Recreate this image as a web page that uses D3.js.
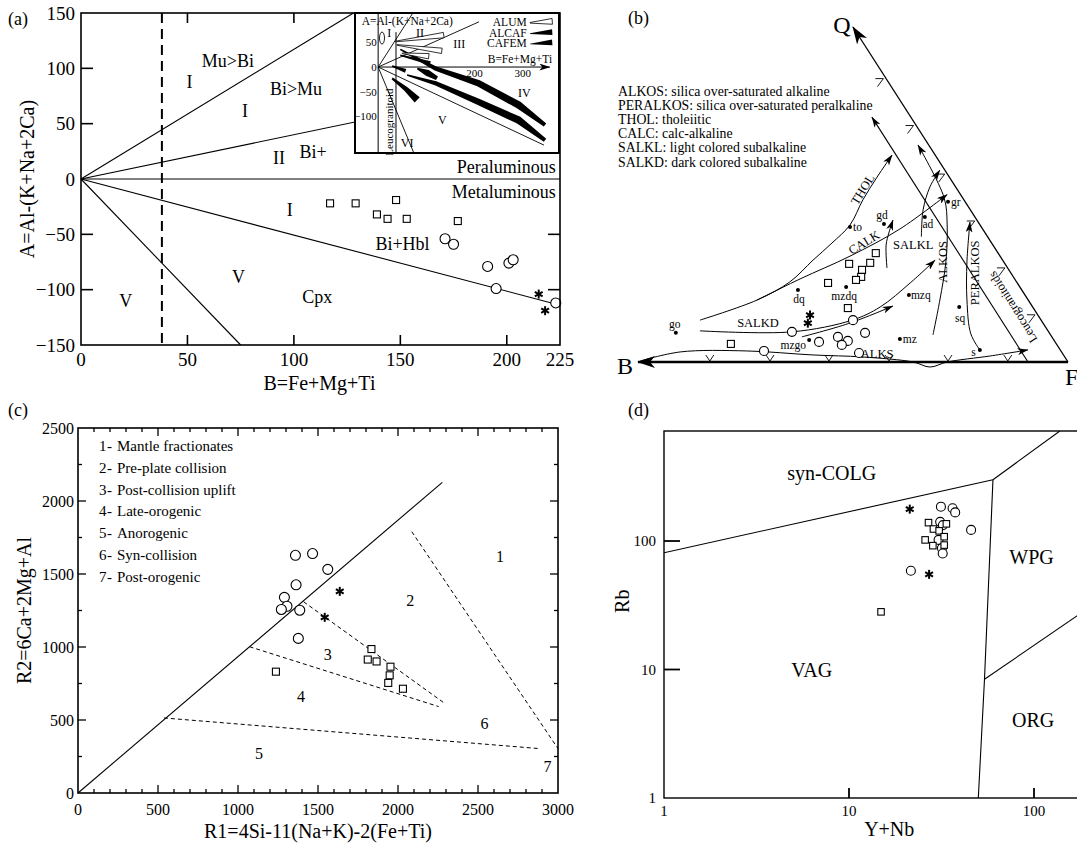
<!DOCTYPE html>
<html>
<head>
<meta charset="utf-8">
<script src="https://cdn.jsdelivr.net/npm/d3@7"></script>
<style>
body { margin: 0; background: #fff; }
text { font-family: "Liberation Serif", "DejaVu Serif", serif; fill: #000; }
</style>
</head>
<body>
<svg id="fig" width="1077" height="852"></svg>
<script>
// ---- (a) A-B diagram ----
var aSquares = [[117,-22],[129,-22],[139,-32],[144,-36],[148,-19],[153,-36],[177,-38]];
var aCircles = [[171,-54],[175,-59],[191,-79],[201,-76],[203,-73],[195,-99],[223,-112]];
var aStars = [[215,-104],[218,-119]];
var aBounds = [[[0,0],[128,150]], [[0,0],[225,90]], [[0,0],[225,0]], [[0,0],[225,-114]], [[0,0],[75,-150]]];
var aDashB = 38;
var aXTicks = [0,50,100,150,200,225];
var aYTicks = [150,100,50,0,-50,-100,-150];
var aLabels = [["Mu>Bi",69,107],["I",51,88],["Bi>Mu",101,81],["I",77,61],["II",93,19],["Bi+",109,24],
               ["I",98,-28],["Bi+Hbl",151,-59],["V",74,-89],["Cpx",111,-107],["V",21,-110]];
// inset of (a)
var insLines = [[[0,0],[72,110]], [[0,0],[209,92]], [[0,0],[344,-159]], [[0,0],[74,-175]]];
var insLeuco = [[37,71],[37,-175]];
var insAlcaf = [[[46,36],[119,-3],[208,-33],[291,-77],[346,-118]],
                [[60,-16],[119,-33],[208,-71],[291,-108],[346,-149]],
                [[81,-3],[102,-12],[122,-23]],
                [[29,2],[57,-8]],
                [[46,24],[108,8]]];
var insCafem = [[[29,-23],[57,-44],[81,-67]]];
var insAlum = [[[36,52],[136,65]], [[39,45],[132,33]], [[50,28],[105,22]]];
var insLabels = [["I",23,69],["II",87,69],["III",168,47],["IV",303,-53],["V",133,-108],["VI",60,-155]];
var insLegend = ["ALUM","ALCAF","CAFEM"];
var insYTicks = [50,0,-50,-100];
var insXTicks = [200,300];

// ---- (b) Q-B-F diagram ----
var bSquares = [[55.3,32.5],[54.0,29.6],[52.1,27.5],[51.9,25.4],[50.7,24.5],[49.1,29.3],[44.2,23.6],[48.8,16.1],[21.6,5.4]];
var bCircles = [[35.8,9.0],[50.0,12.5],[52.8,8.7],[46.5,7.5],[48.8,6.3],[47.4,5.1],[42.1,6.0],[29.3,3.3],[51.4,2.7]];
var bStars = [[40.0,14.0],[39.5,11.6]];
var bRocks = [["go",8.8,8.7],["to",49.3,40.3],["gd",57.2,41.2],["ad",66.7,43.3],["gr",72.1,47.8],["dq",37.2,21.5],
              ["mzdq",48.4,22.4],["mzq",63.0,20.0],["sq",74.7,16.4],["mzgo",39.8,6.6],["mz",60.9,6.9],["s",79.5,3.6]];
var bThol = [[14.4,12.5],[27.7,18.5],[35.3,23.9],[40.7,30.4],[45.1,35.5],[49.3,40.9],[52.3,48.4],[55.6,55.2],[59.1,61.8]];
var bCalk = [[27.7,18.5],[37.7,24.8],[49.3,31.6],[60.9,39.7],[71.9,50.0]];
var bSalkd = [[14.4,9.3],[35.8,9.0],[49.8,12.5],[56.3,16.4],[63.3,23.6],[69.1,30.4]];
var bTrend2 = [[38.1,7.5],[49.0,11.5],[59.3,16.7]];
var bSalkl = [[57.9,28.1],[57.7,34.9],[58.4,38.8],[59.3,42.4]];
var bAdTrend = [[65.9,37.4],[66.3,45.4],[67.9,52.3],[70.2,57.3]];
var bAlkos = [[68.6,8.1],[70.2,18.5],[71.6,29.9],[71.9,40.9],[71.2,49.0],[65.1,64.8]];
var bPeralkos = [[79.5,3.6],[77.4,8.4],[76.5,18.5],[76.5,29.9],[77.2,41.8]];
var bAlks = [[0.5,0.3],[9.8,3.0],[25.3,3.3],[40.7,2.1],[52.3,1.5],[64.0,0],[67.9,-1.5],[71.9,0],[81.9,1.8],[90.7,3.6]];
var bLeuco = [[90.7,0],[54.4,73.1]];
var bCorners = {B:[0,0], F:[100,0], Q:[50,100]};
var bBaseTicks = [16.7,30.7,44.4,58.4,72.1,86.0];
var bSideTicks = [0.16,0.30,0.445,0.585,0.725,0.865];
var bTrendLabels = [["THOL",52.3,51.5],["CALK",52.6,35.6],["SALKL",64.0,34.9],["SALKD",27.9,11.6],
                    ["ALKOS",70.9,29.9],["PERALKOS",78.4,26.6],["Leucogranitoids",87.2,16.4],["ALKS",55.6,2.4]];
var bLegend = ["ALKOS: silica over-saturated alkaline","PERALKOS: silica over-saturated peralkaline","THOL: tholeiitic",
               "CALC: calc-alkaline","SALKL: light colored subalkaline","SALKD: dark colored subalkaline"];

// ---- (c) R1-R2 diagram ----
var cCircles = [[1359,1628],[1466,1640],[1561,1532],[1363,1426],[1290,1340],[1306,1279],[1271,1257],[1386,1252],[1377,1059]];
var cSquares = [[1834,986],[1811,914],[1866,901],[1953,865],[1948,806],[1939,754],[2031,714],[1237,831]];
var cStars = [[1636,1381],[1542,1203]];
var cSolid = [[0,0],[2277,2128]];
var cDashed = [[[2086,1790],[3000,304]], [[1072,1002],[2254,592]], [[1410,1310],[2293,613]], [[537,514],[2885,304]]];
var cZones = [["1",2637,1622],["2",2077,1318],["3",1561,946],["4",1393,664],["5",1132,270],["6",2541,477],["7",2935,180]];
var cLegend = ["Mantle fractionates","Pre-plate collision","Post-collision uplift","Late-orogenic","Anorogenic","Syn-collision","Post-orogenic"];
var cXTicks = [0,500,1000,1500,2000,2500,3000];
var cYTicks = [0,500,1000,1500,2000,2500];

// ---- (d) Rb vs Y+Nb ----
var dCircles = [[31.4,185],[36.3,180],[37.5,167],[45.7,122],[31.1,141],[32.2,133],[30.5,102],[31.8,88],[32.1,80],[21.6,58.7]];
var dSquares = [[26.9,139],[28.6,124],[33.6,136],[30.7,120],[32.7,108],[25.8,102],[28.4,92],[32.7,93],[14.9,28.1]];
var dStars = [[21.3,177],[27.1,55]];
var dBounds = [[[1,81],[60,300]], [[60,300],[138,718]], [[60,300],[54,8.4],[50,1]], [[54,8.4],[200,30.5]]];
var dZones = [["syn-COLG",8.06,340],["VAG",6.29,10],["WPG",97,74.7],["ORG",99,4.05]];
var dTicks = [1,10,100];

var svg = d3.select("#fig");
svg.append("rect").attr("width", 1077).attr("height", 852).attr("fill", "#fff");
var defs = svg.append("defs");
defs.append("marker").attr("id", "arr").attr("viewBox", "0 0 11 7").attr("refX", 10.5).attr("refY", 3.5)
  .attr("markerWidth", 11).attr("markerHeight", 7).attr("markerUnits", "userSpaceOnUse").attr("orient", "auto")
  .append("path").attr("d", "M0,0 L11,3.5 L0,7 L3,3.5 Z").attr("fill", "#000");
defs.append("marker").attr("id", "arrBig").attr("viewBox", "0 0 18 12").attr("refX", 17).attr("refY", 6)
  .attr("markerWidth", 18).attr("markerHeight", 12).attr("markerUnits", "userSpaceOnUse").attr("orient", "auto")
  .append("path").attr("d", "M0,0 L18,6 L0,12 L5,6 Z").attr("fill", "#000");

var minus = function(v) { return v < 0 ? "\u2212" + Math.abs(v) : String(v); };

// helpers for the marker styles
function squares(g, pts, sx, sy, s) {
  g.selectAll(null).data(pts).enter().append("rect")
    .attr("x", function(d) { return sx(d[0]) - s / 2; })
    .attr("y", function(d) { return sy(d[1]) - s / 2; })
    .attr("width", s).attr("height", s)
    .attr("fill", "#fff").attr("stroke", "#000").attr("stroke-width", 1.1);
}
function circles(g, pts, sx, sy, r) {
  g.selectAll(null).data(pts).enter().append("circle")
    .attr("cx", function(d) { return sx(d[0]); })
    .attr("cy", function(d) { return sy(d[1]); })
    .attr("r", r).attr("fill", "#fff").attr("stroke", "#000").attr("stroke-width", 1.1);
}
function stars(g, pts, sx, sy, r) {
  pts.forEach(function(d) {
    var x = sx(d[0]), y = sy(d[1]);
    [90, 30, 150].forEach(function(a) {
      var c = Math.cos(a * Math.PI / 180) * r, s = Math.sin(a * Math.PI / 180) * r;
      g.append("line").attr("x1", x - c).attr("y1", y - s).attr("x2", x + c).attr("y2", y + s)
        .attr("stroke", "#000").attr("stroke-width", 2);
    });
  });
}
function txt(g, s, x, y, size, anchor) {
  return g.append("text").attr("x", x).attr("y", y).attr("font-size", size)
    .attr("text-anchor", anchor || "middle").attr("dominant-baseline", "central").text(s);
}
// band polygon around a centre line, width in px given by profile function
function band(pts, sx, sy, prof) {
  var p = pts.map(function(d) { return [sx(d[0]), sy(d[1])]; });
  var n = p.length, L = [], R = [];
  p.forEach(function(q, i) {
    var a = p[Math.max(i - 1, 0)], b = p[Math.min(i + 1, n - 1)];
    var dx = b[0] - a[0], dy = b[1] - a[1], len = Math.hypot(dx, dy);
    var w = prof(i / (n - 1));
    L.push([q[0] - dy / len * w, q[1] + dx / len * w]);
    R.push([q[0] + dy / len * w, q[1] - dx / len * w]);
  });
  return d3.line()(L.concat(R.reverse())) + "Z";
}

// =================== (a) ===================
var ax = d3.scaleLinear().domain([0, 225]).range([81, 560]);
var ay = d3.scaleLinear().domain([-150, 150]).range([345, 13]);
var gA = svg.append("g");
var lineA = d3.line().x(function(d) { return ax(d[0]); }).y(function(d) { return ay(d[1]); });
aBounds.forEach(function(l) {
  gA.append("path").attr("d", lineA(l)).attr("fill", "none").attr("stroke", "#000").attr("stroke-width", 1.1);
});
gA.append("line").attr("x1", ax(aDashB)).attr("x2", ax(aDashB)).attr("y1", ay(150)).attr("y2", ay(-150))
  .attr("stroke", "#000").attr("stroke-width", 2).attr("stroke-dasharray", "10,6");
squares(gA, aSquares, ax, ay, 7);
circles(gA, aCircles, ax, ay, 5);
stars(gA, aStars, ax, ay, 4.5);
aLabels.forEach(function(l) { txt(gA, l[0], ax(l[1]), ay(l[2]), 18); });
txt(gA, "Peraluminous", ax(223), ay(11), 18, "end");
txt(gA, "Metaluminous", ax(223), ay(-12), 18, "end");

// inset
var ix = d3.scaleLinear().domain([-48, 375]).range([355, 559]);
var iy = d3.scaleLinear().domain([-175, 110]).range([153, 13]);
var gI = svg.append("g");
gI.append("rect").attr("x", ix(-48)).attr("y", iy(110)).attr("width", ix(375) - ix(-48)).attr("height", iy(-175) - iy(110))
  .attr("fill", "#fff").attr("stroke", "#000").attr("stroke-width", 2);
var lineI = d3.line().x(function(d) { return ix(d[0]); }).y(function(d) { return iy(d[1]); });
insLines.forEach(function(l) {
  gI.append("path").attr("d", lineI(l)).attr("fill", "none").attr("stroke", "#000").attr("stroke-width", 0.9);
});
gI.append("path").attr("d", lineI(insLeuco)).attr("stroke", "#000").attr("stroke-width", 1);
gI.append("line").attr("x1", ix(0)).attr("x2", ix(0)).attr("y1", iy(110)).attr("y2", iy(-175)).attr("stroke", "#000").attr("stroke-width", 1);
gI.append("line").attr("x1", ix(0)).attr("x2", ix(356)).attr("y1", iy(0)).attr("y2", iy(0))
  .attr("stroke", "#000").attr("stroke-width", 1).attr("marker-end", "url(#arr)");
var bulge = function(t) { return 0.8 + 3.0 * Math.sin(Math.min(t * 1.15, 1) * Math.PI * 0.5) * (t > 0.9 ? (1 - t) * 6 + 0.4 : 1); };
insAlcaf.forEach(function(p) { gI.append("path").attr("d", band(p, ix, iy, bulge)).attr("fill", "#000"); });
insCafem.forEach(function(p) { gI.append("path").attr("d", band(p, ix, iy, function(t) { return 1 + 2.6 * t; })).attr("fill", "#000"); });
insAlum.forEach(function(p) {
  gI.append("path").attr("d", band(p, ix, iy, function(t) { return 0.3 + 2.4 * t; }))
    .attr("fill", "#fff").attr("stroke", "#000").attr("stroke-width", 0.8);
});
gI.append("ellipse").attr("cx", ix(8)).attr("cy", iy(59)).attr("rx", 2.5).attr("ry", 6)
  .attr("fill", "none").attr("stroke", "#000").attr("stroke-width", 0.9);
txt(gI, "A=Al-(K+Na+2Ca)", ix(-34), iy(94), 11.5, "start");
txt(gI, "B=Fe+Mg+Ti", ix(294), iy(16), 11.5);
insLabels.forEach(function(l) { txt(gI, l[0], ix(l[1]), iy(l[2]), 12); });
txt(gI, "Leucogranitoid", 0, 0, 11).attr("transform", "translate(" + ix(22) + "," + iy(-112) + ") rotate(-90)");
insYTicks.forEach(function(v) { txt(gI, minus(v), ix(-3), iy(v), 11, "end"); });
insXTicks.forEach(function(v) { txt(gI, v, ix(v), iy(-12), 11); });
insLegend.forEach(function(s, i) {
  var a = [92, 70, 49][i];
  txt(gI, s, ix(308), iy(a), 11.5, "end");
  var pts = [[315, a - 2], [361, a + 1]];
  var el = gI.append("path").attr("d", band(pts, ix, iy, function(t) { return 0.3 + 2.6 * t; }));
  if (i === 0) el.attr("fill", "#fff").attr("stroke", "#000").attr("stroke-width", 0.8);
  else el.attr("fill", "#000");
});

// frame + ticks of (a)
gA = svg.append("g");
gA.append("rect").attr("x", ax(0)).attr("y", ay(150)).attr("width", ax(225) - ax(0)).attr("height", ay(-150) - ay(150))
  .attr("fill", "none").attr("stroke", "#000").attr("stroke-width", 1.6);
[50, 100, 150, 200].forEach(function(v) {
  gA.append("line").attr("x1", ax(v)).attr("x2", ax(v)).attr("y1", ay(-150)).attr("y2", ay(-150) - 10).attr("stroke", "#000").attr("stroke-width", 1.6);
  if (v <= 100) gA.append("line").attr("x1", ax(v)).attr("x2", ax(v)).attr("y1", ay(150)).attr("y2", ay(150) + 10).attr("stroke", "#000").attr("stroke-width", 1.6);
});
[100, 50, -50, -100].forEach(function(v) {
  gA.append("line").attr("x1", ax(0)).attr("x2", ax(0) + 12).attr("y1", ay(v)).attr("y2", ay(v)).attr("stroke", "#000").attr("stroke-width", 1.6);
  if (v < 0) gA.append("line").attr("x1", ax(225)).attr("x2", ax(225) - 12).attr("y1", ay(v)).attr("y2", ay(v)).attr("stroke", "#000").attr("stroke-width", 1.6);
});
aYTicks.forEach(function(v) { txt(gA, minus(v), ax(0) - 6, ay(v), 19, "end"); });
aXTicks.forEach(function(v) { txt(gA, v, ax(v), ay(-150) + 14, 19); });
txt(gA, "A=Al-(K+Na+2Ca)", 0, 0, 20).attr("transform", "translate(27," + ay(0) + ") rotate(-90)");
txt(gA, "B=Fe+Mg+Ti", ax(112), 383, 20);
txt(gA, "(a)", 8, 19, 18, "start");

// =================== (b) ===================
var bx = d3.scaleLinear().domain([0, 100]).range([638, 1068]);
var by = d3.scaleLinear().domain([0, 100]).range([362, 27]);
var gB = svg.append("g");
var lineB = d3.line().x(function(d) { return bx(d[0]); }).y(function(d) { return by(d[1]); });
var curveB = d3.line().curve(d3.curveCatmullRom.alpha(0.5)).x(function(d) { return bx(d[0]); }).y(function(d) { return by(d[1]); });
gB.append("path").attr("d", lineB([bCorners.F, bCorners.B])).attr("stroke", "#000").attr("stroke-width", 2.6).attr("marker-end", "url(#arrBig)");
gB.append("path").attr("d", lineB([bCorners.F, bCorners.Q])).attr("stroke", "#000").attr("stroke-width", 1.3).attr("marker-end", "url(#arrBig)");
gB.append("path").attr("d", lineB(bLeuco)).attr("stroke", "#000").attr("stroke-width", 1.1).attr("marker-end", "url(#arr)");
bBaseTicks.forEach(function(u) {
  var x = bx(u), y = by(0);
  gB.append("path").attr("d", "M" + (x - 4) + "," + (y - 7) + "L" + x + "," + (y - 1) + "L" + (x + 4) + "," + (y - 7))
    .attr("fill", "none").attr("stroke", "#000").attr("stroke-width", 0.9);
});
bSideTicks.forEach(function(t) {
  var u = bCorners.Q[0] + t * (bCorners.F[0] - bCorners.Q[0]), v = bCorners.Q[1] + t * (bCorners.F[1] - bCorners.Q[1]);
  var x = bx(u), y = by(v);
  gB.append("path").attr("d", "M" + (x - 12) + "," + (y - 2) + "L" + (x - 4) + "," + (y - 2) + "L" + (x - 10) + "," + (y + 6))
    .attr("fill", "none").attr("stroke", "#000").attr("stroke-width", 0.9);
});
[bThol, bCalk, bSalkd, bTrend2, bSalkl, bAdTrend, bAlkos, bPeralkos, bAlks].forEach(function(c) {
  gB.append("path").attr("d", curveB(c)).attr("fill", "none").attr("stroke", "#000").attr("stroke-width", 1)
    .attr("marker-end", "url(#arr)");
});
squares(gB, bSquares, bx, by, 7);
circles(gB, bCircles, bx, by, 4.5);
stars(gB, bStars, bx, by, 4.5);
var rockOff = {go:[-1,-9,"middle"], to:[3,0,"start"], gd:[-2,-9,"middle"], ad:[3,7,"middle"], gr:[3,0,"start"],
               dq:[1,9,"middle"], mzdq:[-2,9,"middle"], mzq:[2,0,"start"], sq:[1,11,"middle"], mzgo:[-3,5,"end"],
               mz:[3,0,"start"], s:[-4,2,"end"]};
bRocks.forEach(function(r) {
  var x = bx(r[1]), y = by(r[2]), o = rockOff[r[0]];
  gB.append("circle").attr("cx", x).attr("cy", y).attr("r", 2).attr("fill", "#000");
  txt(gB, r[0], x + o[0], y + o[1], 11.5, o[2]);
});
var trendRot = {THOL:-58, CALK:-31, SALKL:0, SALKD:0, ALKOS:-90, PERALKOS:-90, Leucogranitoids:-122, ALKS:0};
bTrendLabels.forEach(function(l) {
  txt(gB, l[0], 0, 0, 12.5).attr("transform", "translate(" + bx(l[1]) + "," + by(l[2]) + ") rotate(" + trendRot[l[0]] + ")");
});
txt(gB, "Q", bx(bCorners.Q[0]) - 11, by(bCorners.Q[1]) - 2, 24);
txt(gB, "B", bx(bCorners.B[0]) - 13, by(bCorners.B[1]) + 4, 24);
txt(gB, "F", bx(bCorners.F[0]) - 3, by(bCorners.F[1]) + 15, 24, "start");
bLegend.forEach(function(s, i) { txt(gB, s, 618, 91 + i * 14.2, 13.8, "start"); });
txt(gB, "(b)", 628, 18, 18, "start");

// =================== (c) ===================
var cx = d3.scaleLinear().domain([0, 3000]).range([78, 558]);
var cy = d3.scaleLinear().domain([0, 2500]).range([793, 428]);
var gC = svg.append("g");
var lineC = d3.line().x(function(d) { return cx(d[0]); }).y(function(d) { return cy(d[1]); });
gC.append("path").attr("d", lineC(cSolid)).attr("stroke", "#000").attr("stroke-width", 1.1);
cDashed.forEach(function(l) {
  gC.append("path").attr("d", lineC(l)).attr("stroke", "#000").attr("stroke-width", 1).attr("stroke-dasharray", "4,3");
});
circles(gC, cCircles, cx, cy, 5);
squares(gC, cSquares, cx, cy, 7);
stars(gC, cStars, cx, cy, 4.5);
cZones.forEach(function(z) { txt(gC, z[0], cx(z[1]), cy(z[2]), 16); });
cLegend.forEach(function(s, i) {
  var y = 446 + i * 21.8;
  txt(gC, String(i + 1), 99, y, 15, "start");
  txt(gC, "-", 107, y, 15, "start");
  txt(gC, s, 117, y, 15, "start");
});
gC.append("rect").attr("x", cx(0)).attr("y", cy(2500)).attr("width", cx(3000) - cx(0)).attr("height", cy(0) - cy(2500))
  .attr("fill", "none").attr("stroke", "#000").attr("stroke-width", 1.6);
d3.range(100, 3000, 100).forEach(function(v) {
  var len = v % 500 === 0 ? 8 : 4;
  gC.append("line").attr("x1", cx(v)).attr("x2", cx(v)).attr("y1", cy(0)).attr("y2", cy(0) - len).attr("stroke", "#000").attr("stroke-width", 1.3);
  gC.append("line").attr("x1", cx(v)).attr("x2", cx(v)).attr("y1", cy(2500)).attr("y2", cy(2500) + len).attr("stroke", "#000").attr("stroke-width", 1.3);
});
d3.range(250, 2500, 250).forEach(function(v) {
  var len = v % 500 === 0 ? 8 : 4;
  gC.append("line").attr("x1", cx(0)).attr("x2", cx(0) + len).attr("y1", cy(v)).attr("y2", cy(v)).attr("stroke", "#000").attr("stroke-width", 1.3);
  gC.append("line").attr("x1", cx(3000)).attr("x2", cx(3000) - len).attr("y1", cy(v)).attr("y2", cy(v)).attr("stroke", "#000").attr("stroke-width", 1.3);
});
cXTicks.forEach(function(v) { txt(gC, v, cx(v), cy(0) + 16, 16); });
cYTicks.forEach(function(v) { txt(gC, v, cx(0) - 4, cy(v), 16, "end"); });
txt(gC, "R2=6Ca+2Mg+Al", 0, 0, 20).attr("transform", "translate(24," + cy(1250) + ") rotate(-90)");
txt(gC, "R1=4Si-11(Na+K)-2(Fe+Ti)", cx(1500), 831, 20);
txt(gC, "(c)", 8, 410, 18, "start");

// =================== (d) ===================
var dx = d3.scaleLog().domain([1, 1000]).range([664, 1219]);
var dy = d3.scaleLog().domain([1, 718]).range([798, 431]);
var gD = svg.append("g");
defs.append("clipPath").attr("id", "clipD").append("rect")
  .attr("x", dx(1)).attr("y", dy(718)).attr("width", dx(1000) - dx(1)).attr("height", dy(1) - dy(718));
var lineD = d3.line().x(function(d) { return dx(d[0]); }).y(function(d) { return dy(d[1]); });
var gDc = gD.append("g").attr("clip-path", "url(#clipD)");
dBounds.forEach(function(l) {
  gDc.append("path").attr("d", lineD(l)).attr("fill", "none").attr("stroke", "#000").attr("stroke-width", 1.1);
});
circles(gD, dCircles, dx, dy, 4.5);
squares(gD, dSquares, dx, dy, 6.5);
stars(gD, dStars, dx, dy, 4.5);
dZones.forEach(function(z) { txt(gD, z[0], dx(z[1]), dy(z[2]), 20); });
gD.append("rect").attr("x", dx(1)).attr("y", dy(718)).attr("width", dx(1000) - dx(1)).attr("height", dy(1) - dy(718))
  .attr("fill", "none").attr("stroke", "#000").attr("stroke-width", 1.4);
[10, 100].forEach(function(v) {
  gD.append("line").attr("x1", dx(1)).attr("x2", dx(1) + 16).attr("y1", dy(v)).attr("y2", dy(v)).attr("stroke", "#000").attr("stroke-width", 1.8);
  gD.append("line").attr("x1", dx(v)).attr("x2", dx(v)).attr("y1", dy(1)).attr("y2", dy(1) - 10).attr("stroke", "#000").attr("stroke-width", 1.8);
});
dTicks.forEach(function(v) {
  txt(gD, v, dx(1) - 8, dy(v), 15, "end");
  txt(gD, v, dx(v), dy(1) + 13, 15);
});
txt(gD, "Rb", 0, 0, 20).attr("transform", "translate(622," + dy(34) + ") rotate(-90)");
txt(gD, "Y+Nb", dx(16.5), 829, 20);
txt(gD, "(d)", 628, 410, 18, "start");
</script>
</body>
</html>
